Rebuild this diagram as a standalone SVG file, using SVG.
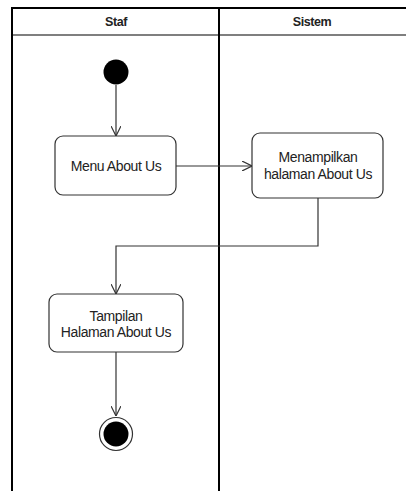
<svg xmlns="http://www.w3.org/2000/svg" width="406" height="491" viewBox="0 0 406 491">
<style>
.lane{fill:none;stroke:#000;stroke-width:2}
.hdr{font-family:"Liberation Sans",Arial,sans-serif;font-size:12.5px;font-weight:bold;fill:#222;text-anchor:middle;letter-spacing:-0.4px}
.box{fill:#fff;stroke:#333;stroke-width:1.2}
.lbl{font-family:"Liberation Sans",Arial,sans-serif;font-size:14px;fill:#222;text-anchor:middle;letter-spacing:-0.4px}
.edge{fill:none;stroke:#333;stroke-width:1.2}
</style>
<defs>
<marker id="arr" viewBox="0 0 10 10" refX="10" refY="5" markerWidth="10" markerHeight="10" markerUnits="userSpaceOnUse" orient="auto">
<path d="M0,0 L10,5 L0,10" fill="none" stroke="#333" stroke-width="1.2"/>
</marker>
</defs>
<rect width="406" height="491" fill="#fff"/>
<g id="swimlanes">
<path class="lane" d="M12,491 V8 H406"/>
<path class="lane" d="M219,8 V491"/>
<path d="M12,35 H406" stroke="#000" stroke-width="1.2"/>
<text class="hdr" x="116" y="26">Staf</text>
<text class="hdr" x="312" y="26">Sistem</text>
</g>
<g id="connectors">
<path class="edge" d="M116,85 V136" marker-end="url(#arr)"/>
<path class="edge" d="M176,166 H252" marker-end="url(#arr)"/>
<path class="edge" d="M318,198 V246 H116 V294" marker-end="url(#arr)"/>
<path class="edge" d="M116,352 V416" marker-end="url(#arr)"/>
</g>
<g id="start">
<circle cx="116" cy="72" r="12.5" fill="#000"/>
</g>
<g id="menu">
<rect class="box" x="55" y="136" width="121" height="59" rx="8"/>
<text class="lbl" x="116" y="171">Menu About Us</text>
</g>
<g id="menampilkan">
<rect class="box" x="252" y="133" width="131" height="65" rx="8"/>
<text class="lbl" x="318" y="162">Menampilkan</text>
<text class="lbl" x="318" y="179">halaman About Us</text>
</g>
<g id="tampilan">
<rect class="box" x="49" y="294" width="134" height="58" rx="8"/>
<text class="lbl" x="116" y="321">Tampilan</text>
<text class="lbl" x="116" y="337">Halaman About Us</text>
</g>
<g id="end">
<circle cx="116" cy="434" r="16.5" fill="#fff" stroke="#333" stroke-width="1.2"/>
<circle cx="116" cy="434" r="12.5" fill="#000"/>
</g>
</svg>
